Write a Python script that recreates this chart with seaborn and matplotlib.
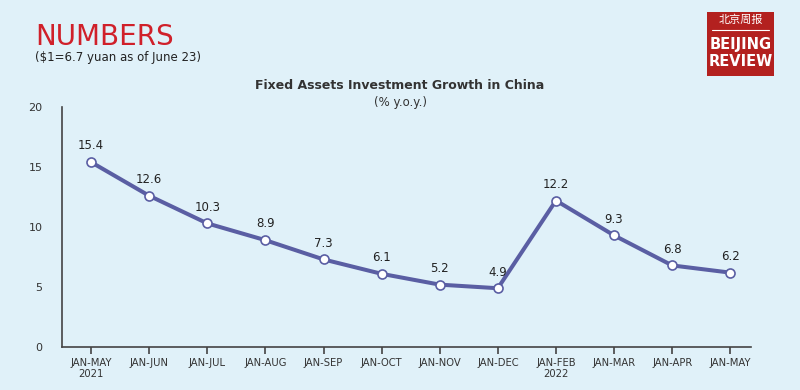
import matplotlib
matplotlib.use("Agg")
import matplotlib.pyplot as plt
import seaborn as sns
import pandas as pd
from matplotlib.patches import Rectangle

periods = ["JAN-MAY\n2021", "JAN-JUN", "JAN-JUL", "JAN-AUG", "JAN-SEP", "JAN-OCT",
           "JAN-NOV", "JAN-DEC", "JAN-FEB\n2022", "JAN-MAR", "JAN-APR", "JAN-MAY"]
growth = [15.4, 12.6, 10.3, 8.9, 7.3, 6.1, 5.2, 4.9, 12.2, 9.3, 6.8, 6.2]
yticks = [0, 5, 10, 15, 20]

bg = "#e0f1f9"
line_c = "#5a5ea3"

sns.set_theme(style="white")
plt.rcParams['font.family'] = ['DejaVu Sans', 'Noto Sans CJK SC']

fig = plt.figure(figsize=(8, 3.9), dpi=100, facecolor=bg)
ax = fig.add_axes([0.0775, 0.110, 0.8615, 0.616])
ax.set_facecolor(bg)

df = pd.DataFrame({"x": range(len(periods)), "y": growth})
sns.lineplot(data=df, x="x", y="y", ax=ax, color=line_c, linewidth=2.9,
             marker="o", markersize=6.5, markerfacecolor="white",
             markeredgecolor=line_c, markeredgewidth=1.2)

for i, v in enumerate(growth):
    ax.annotate(f"{v}", (i, v), xytext=(0, 7), textcoords="offset points",
                ha="center", va="bottom", fontsize=8.5, color="#222222")

ax.set_xlim(-0.5, 11.36)
ax.set_ylim(0, 20)
ax.set_xticks(range(len(periods)))
ax.set_xticklabels(periods, fontsize=7.2, color="#333333", linespacing=1.1)
ax.set_yticks(yticks)
ax.set_yticklabels([str(t) for t in yticks], fontsize=8, color="#333333")
ax.set_xlabel("")
ax.set_ylabel("")
for s in ["top", "right"]:
    ax.spines[s].set_visible(False)
for s in ["left", "bottom"]:
    ax.spines[s].set_color("#444444")
    ax.spines[s].set_linewidth(1.2)
ax.tick_params(axis="x", which="both", bottom=True, length=5, width=1.2,
               color="#444444", pad=3)
ax.tick_params(axis="y", left=False, pad=8)

fig.text(0.044, 1 - 45/390, "NUMBERS", fontsize=20, color="#d0202a",
         family=["DejaVu Sans"], ha="left", va="baseline")
fig.text(0.044, 1 - 57/390, "($1=6.7 yuan as of June 23)", fontsize=8.5, color="#222222",
         ha="left", va="center")
fig.text(0.5, 0.78, "Fixed Assets Investment Growth in China", fontsize=9,
         fontweight="bold", color="#333333", ha="center", va="center")
fig.text(0.5, 0.737, "(% y.o.y.)", fontsize=8.5, color="#333333",
         ha="center", va="center")

# logo
lx0, ly0, lw, lh = 707/800, 1-76/390, 67/800, 64/390
fig.patches.append(Rectangle((lx0, ly0), lw, lh, transform=fig.transFigure,
                             facecolor="#b3211f", edgecolor="none"))
fig.text(lx0 + lw/2, 1-20/390, "北京周报", fontsize=8, color="white", ha="center",
         va="center", family=["Noto Sans CJK SC", "DejaVu Sans"])
fig.lines.append(plt.Line2D([lx0+0.006, lx0+lw-0.006], [1-30/390, 1-30/390],
                            transform=fig.transFigure, color="white", linewidth=0.8))
fig.text(lx0 + lw/2, 1-44/390, "BEIJING", fontsize=10.5, color="white", ha="center",
         va="center", fontweight="bold", family=["DejaVu Sans"])
fig.text(lx0 + lw/2, 1-62/390, "REVIEW", fontsize=10.5, color="white", ha="center",
         va="center", fontweight="bold", family=["DejaVu Sans"])

fig.savefig("out.png", dpi=100, facecolor=bg)
